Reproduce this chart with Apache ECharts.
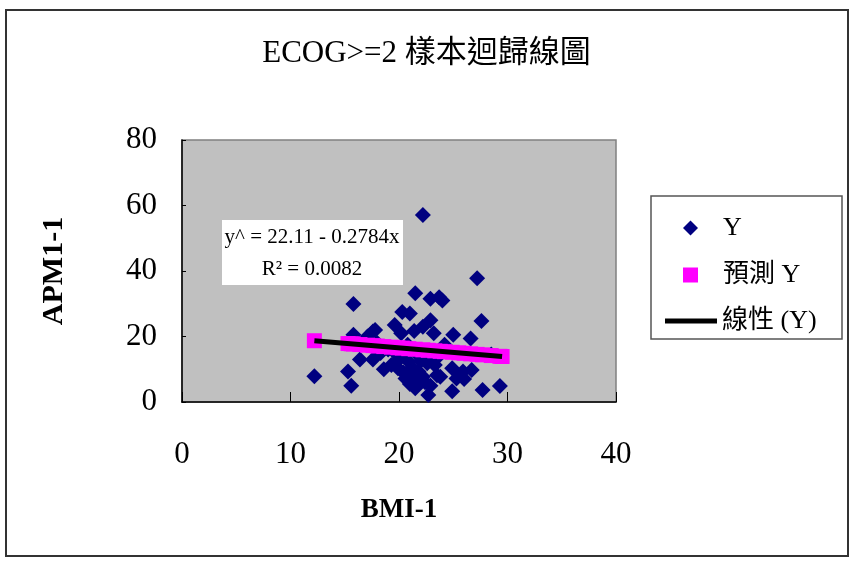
<!DOCTYPE html>
<html>
<head>
    <meta charset="utf-8">
    <title>ECOG>=2 樣本迴歸線圖</title>
    <script src="https://cdn.jsdelivr.net/npm/echarts@6/dist/echarts.min.js"></script>
    <style>
        html, body { margin: 0; padding: 0; background: #fff; }
        #main { width: 853px; height: 562px; }
    </style>
</head>
<body>
<div id="main"></div>

<script type="text/javascript">
    // 觀察值 (BMI-1, APM1-1)
    var bmi = [12.2, 15.3, 15.6, 15.8, 15.8, 16.4, 17.1, 17.6, 17.6, 17.8,
        18.0, 18.6, 19.3, 19.6, 19.9, 20.0, 20.2, 20.3, 20.6, 20.9,
        20.8, 21.0, 21.0, 21.4, 21.5, 21.5, 21.8, 21.7, 22.2, 22.2,
        22.2, 22.4, 22.6, 22.7, 22.9, 22.9, 23.2, 23.3, 23.5, 23.5,
        23.7, 23.8, 24.0, 24.2, 24.9, 24.9, 25.0, 25.3, 25.9, 26.0,
        26.7, 26.6, 27.2, 27.6, 27.7, 29.3, 28.5, 19.0, 21.2, 20.5,
        20.4, 21.3, 22.0, 21.8, 22.9, 23.0, 19.8, 18.3];
    var apm = [7.9, 9.3, 5.0, 29.9, 20.5, 13.0, 20.0, 21.5, 13.0, 22.0,
        18.0, 10.0, 11.3, 23.5, 10.3, 13.0, 21.0, 27.5, 7.2, 12.3,
        17.5, 27.0, 5.5, 21.7, 33.2, 4.2, 9.3, 14.5, 57.1, 23.0,
        7.7, 6.0, 11.8, 2.1, 25.0, 31.5, 21.0, 11.3, 8.2, 13.5,
        32.0, 7.7, 31.0, 17.5, 10.3, 3.3, 20.5, 7.2, 9.3, 7.0,
        9.8, 19.4, 37.8, 24.7, 3.7, 4.9, 14.5, 16.0, 10.5, 15.0,
        9.0, 7.5, 12.5, 5.5, 5.0, 13.0, 14.5, 15.0];

    // 預測 Y
    var predBmi = [12.2, 15.3, 15.6, 15.8, 16.4, 17.1, 17.6, 18.0, 18.6, 19.3,
        19.9, 20.3, 20.9, 21.5, 22.2, 22.7, 23.3, 23.8, 24.2, 24.9,
        25.5, 26.0, 26.6, 27.2, 27.7, 28.5, 29.3, 29.5];
    var predApm = [18.71, 17.85, 17.77, 17.71, 17.54, 17.35, 17.21, 17.10, 16.93, 16.74,
        16.57, 16.46, 16.29, 16.12, 15.93, 15.79, 15.62, 15.48, 15.37, 15.18,
        15.01, 14.87, 14.70, 14.54, 14.40, 14.18, 13.95, 13.90];

    // 線性 (Y) 趨勢線兩端
    var trendBmi = [12.2, 29.5];
    var trendApm = [18.71, 13.90];

    var equationText = 'y^ = 22.11 - 0.2784x\nR² = 0.0082';

    var serif = "'Liberation Serif', 'Noto Sans CJK TC', serif";

    function zip(xs, ys) {
        return xs.map(function (x, i) { return [x, ys[i]]; });
    }

    var chart = echarts.init(document.getElementById('main'));
    chart.setOption({
        backgroundColor: '#fff',
        animation: false,
        textStyle: { fontFamily: serif, color: '#000' },
        title: {
            text: 'ECOG>=2 樣本迴歸線圖',
            left: 'center',
            top: 33,
            textStyle: { fontFamily: serif, fontSize: 31, fontWeight: 'normal', color: '#000' }
        },
        grid: {
            left: 182, right: 237, top: 140, bottom: 160,
            show: true,
            backgroundColor: '#c0c0c0',
            borderColor: '#808080',
            borderWidth: 1.5,
            outerBoundsMode: 'none'
        },
        legend: [
            {
                data: [{ name: 'Y', icon: 'diamond' }],
                left: 678, top: 208, itemWidth: 15, itemHeight: 15,
                textStyle: { fontFamily: serif, fontSize: 26, lineHeight: 30, color: '#000', padding: [0, 0, 0, 20] }
            },
            {
                data: [{ name: '預測 Y', icon: 'rect' }],
                left: 678, top: 255, itemWidth: 15, itemHeight: 15,
                textStyle: { fontFamily: serif, fontSize: 26, lineHeight: 30, color: '#000', padding: [0, 0, 0, 20] }
            },
            {
                data: [{ name: '線性 (Y)', icon: 'rect' }],
                left: 660, top: 301, itemWidth: 52, itemHeight: 5,
                textStyle: { fontFamily: serif, fontSize: 26, lineHeight: 30, color: '#000' }
            }
        ],
        xAxis: {
            type: 'value',
            min: 0, max: 40, interval: 10,
            name: 'BMI-1',
            nameLocation: 'middle',
            nameGap: 95,
            nameTextStyle: { fontFamily: serif, fontSize: 27, fontWeight: 'bold', color: '#000' },
            axisLine: { lineStyle: { color: '#000', width: 1.5 } },
            axisTick: { inside: true, length: 10, lineStyle: { color: '#000' } },
            axisLabel: { margin: 37, fontFamily: serif, fontSize: 31, color: '#000' },
            splitLine: { show: false }
        },
        yAxis: {
            type: 'value',
            min: 0, max: 80, interval: 20,
            name: 'APM1-1',
            nameLocation: 'middle',
            nameGap: 113,
            nameTextStyle: { fontFamily: serif, fontSize: 30, fontWeight: 'bold', color: '#000' },
            axisLine: { show: true, lineStyle: { color: '#000', width: 1.5 } },
            axisTick: { show: true, inside: true, length: 4, lineStyle: { color: '#000' } },
            axisLabel: { margin: 25, fontFamily: serif, fontSize: 31, color: '#000' },
            splitLine: { show: false }
        },
        series: [
            {
                name: 'Y',
                type: 'scatter',
                symbol: 'diamond',
                symbolSize: 16,
                itemStyle: { color: '#000080', opacity: 1 },
                data: zip(bmi, apm)
            },
            {
                name: '預測 Y',
                type: 'scatter',
                symbol: 'rect',
                symbolSize: 15,
                itemStyle: { color: '#ff00ff', opacity: 1 },
                data: zip(predBmi, predApm)
            },
            {
                name: '線性 (Y)',
                type: 'line',
                showSymbol: false,
                symbol: 'none',
                itemStyle: { color: '#000' },
                lineStyle: { color: '#000', width: 5 },
                data: zip(trendBmi, trendApm)
            }
        ],
        graphic: [
            // 外框
            {
                type: 'rect',
                z: -1,
                shape: { x: 6, y: 10, width: 842, height: 546 },
                style: { fill: 'none', stroke: '#333', lineWidth: 2 }
            },
            // 圖例外框
            {
                type: 'rect',
                z: 0,
                shape: { x: 651, y: 196, width: 191, height: 143 },
                style: { fill: '#fff', stroke: '#555', lineWidth: 1.5 }
            },
            // 迴歸式標籤
            {
                type: 'rect',
                z: 10,
                shape: { x: 222, y: 220, width: 181, height: 65 },
                style: { fill: '#fff' }
            },
            {
                type: 'text',
                z: 11,
                x: 312, y: 253,
                style: {
                    text: equationText,
                    fontFamily: serif,
                    fontSize: 21,
                    lineHeight: 32,
                    align: 'center',
                    verticalAlign: 'middle',
                    fill: '#000'
                }
            }
        ]
    });
</script>
</body>
</html>
